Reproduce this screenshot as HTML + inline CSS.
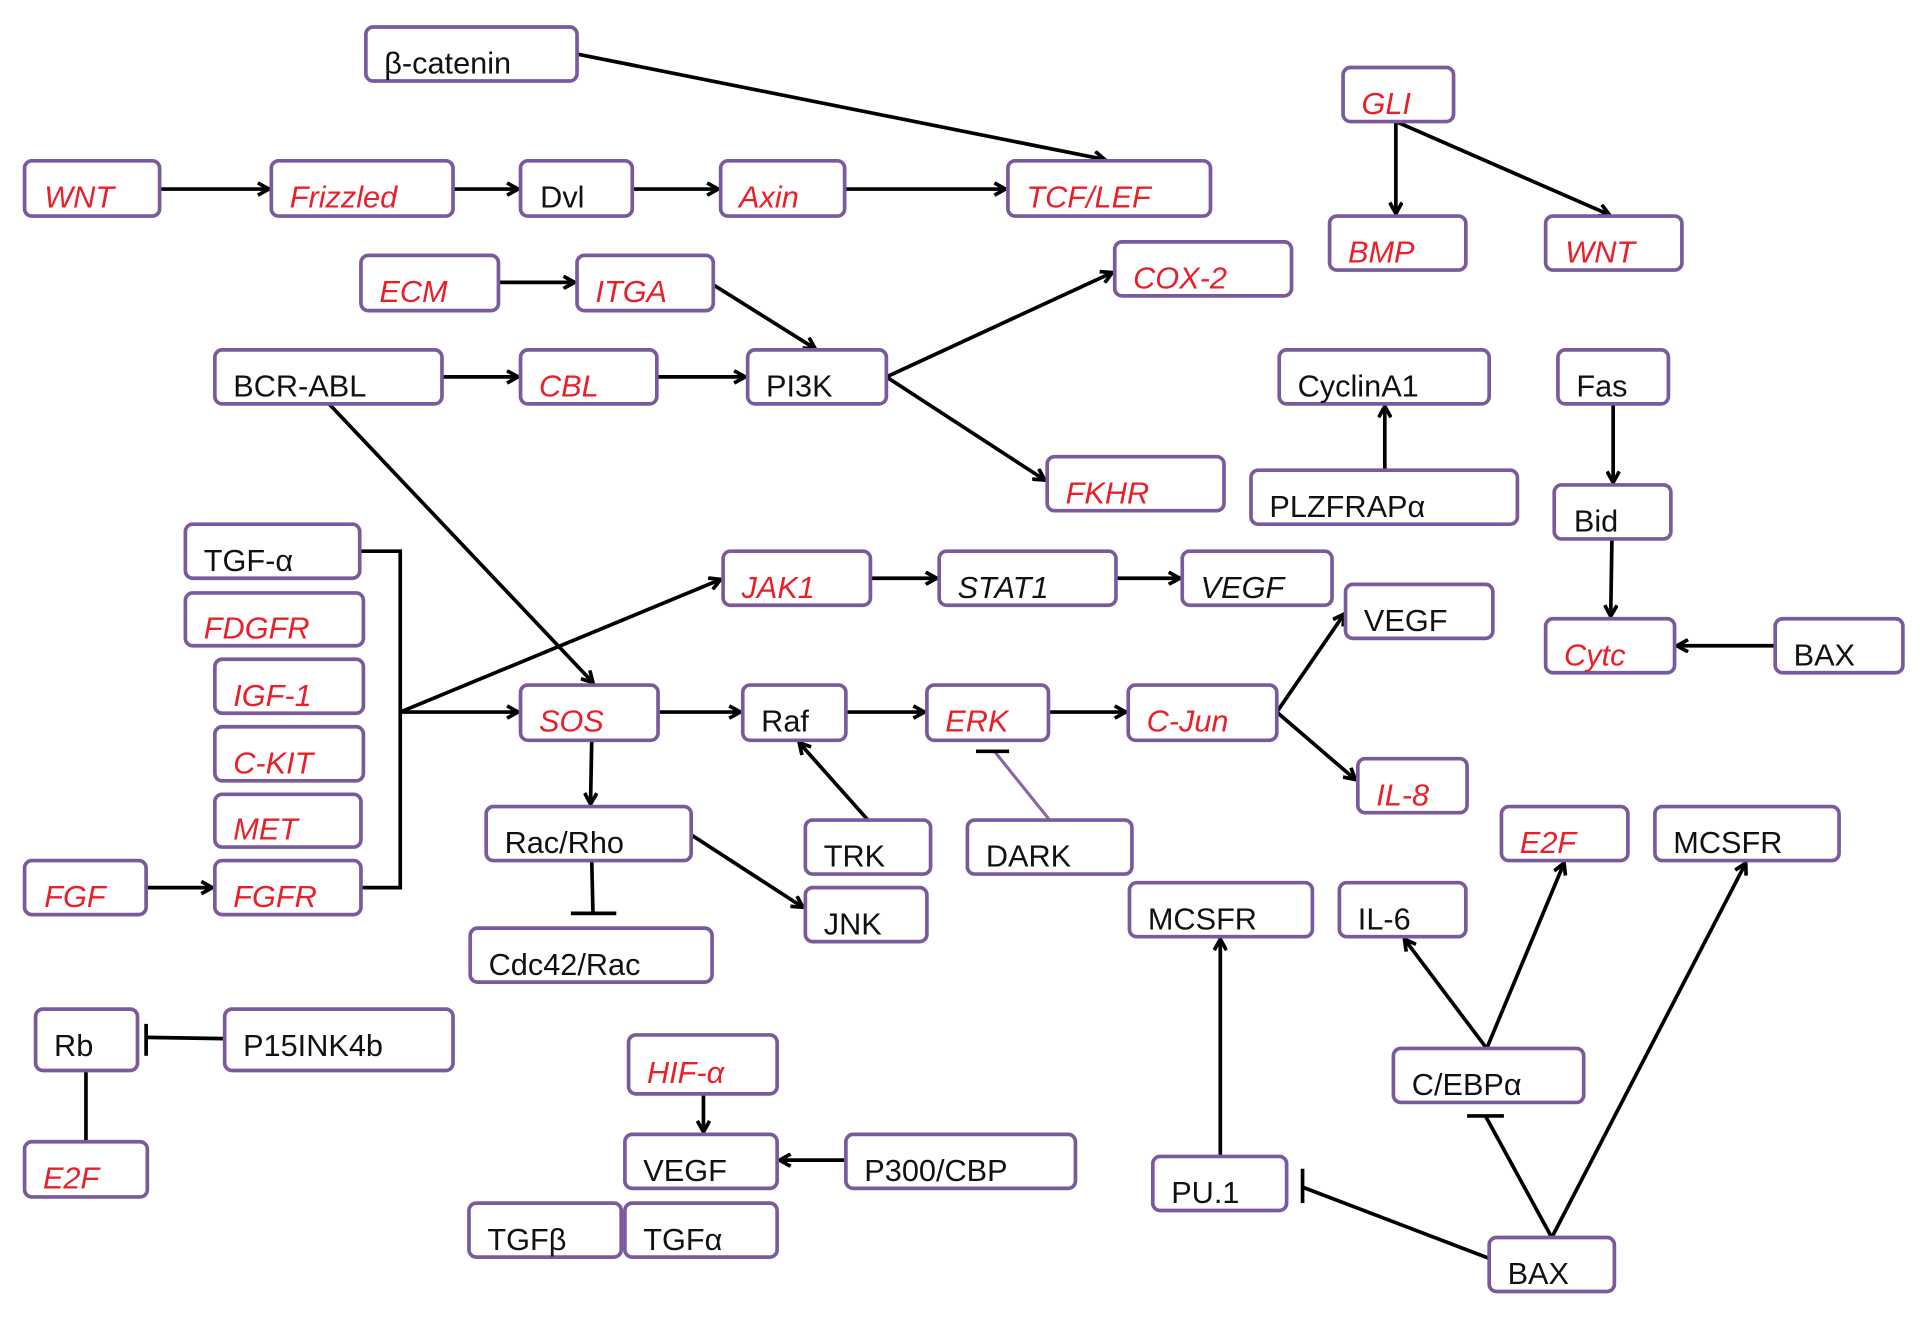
<!DOCTYPE html>
<html><head><meta charset="utf-8"><style>
html,body{margin:0;padding:0;background:#fff;}
svg{display:block}
.b{fill:#fff;stroke:#7a5a9c;stroke-width:3}
text{font-family:"Liberation Sans",sans-serif;font-size:25px;fill:#111}
.r{fill:#e8202a;font-style:italic}
.i{font-style:italic}
.l{stroke:#000;stroke-width:3;fill:none}
.p{stroke:#8a63a8;stroke-width:2.5;fill:none}
</style></head><body>
<svg width="1925" height="1319" viewBox="0 0 1568 1074.4" xmlns="http://www.w3.org/2000/svg">
<defs>
<marker id="a" markerWidth="12" markerHeight="12" refX="10" refY="6" orient="auto" markerUnits="userSpaceOnUse"><path d="M1,1 L10,6 L1,11" fill="none" stroke="#000" stroke-width="3"/></marker>
</defs>
<g>
<!-- edges -->
<line class="l" x1="470" y1="44" x2="900" y2="130" marker-end="url(#a)"/>
<line class="l" x1="130" y1="154" x2="219" y2="154" marker-end="url(#a)"/>
<line class="l" x1="369" y1="154" x2="422" y2="154" marker-end="url(#a)"/>
<line class="l" x1="515" y1="154" x2="585" y2="154" marker-end="url(#a)"/>
<line class="l" x1="688" y1="154" x2="819" y2="154" marker-end="url(#a)"/>
<line class="l" x1="1137" y1="99" x2="1137" y2="174" marker-end="url(#a)"/>
<line class="l" x1="1137" y1="99" x2="1311" y2="175" marker-end="url(#a)"/>
<line class="l" x1="406" y1="230" x2="468" y2="230" marker-end="url(#a)"/>
<line class="l" x1="581" y1="232" x2="664" y2="284" marker-end="url(#a)"/>
<line class="l" x1="360" y1="307" x2="422" y2="307" marker-end="url(#a)"/>
<line class="l" x1="535" y1="307" x2="607" y2="307" marker-end="url(#a)"/>
<line class="l" x1="722" y1="307" x2="906" y2="222" marker-end="url(#a)"/>
<line class="l" x1="722" y1="307" x2="851" y2="391" marker-end="url(#a)"/>
<line class="l" x1="1128" y1="383" x2="1128" y2="331" marker-end="url(#a)"/>
<line class="l" x1="1314" y1="329" x2="1314" y2="393" marker-end="url(#a)"/>
<line class="l" x1="1313" y1="439" x2="1312" y2="502" marker-end="url(#a)"/>
<line class="l" x1="1446" y1="526" x2="1366" y2="526" marker-end="url(#a)"/>
<line class="l" x1="268" y1="329" x2="483" y2="556" marker-end="url(#a)"/>
<polyline class="l" points="293,449 326,449 326,723 294,723"/>
<line class="l" x1="326" y1="580" x2="422" y2="580" marker-end="url(#a)"/>
<line class="l" x1="326" y1="580" x2="587" y2="472" marker-end="url(#a)"/>
<line class="l" x1="119" y1="723" x2="173" y2="723" marker-end="url(#a)"/>
<line class="l" x1="709" y1="471" x2="763" y2="471" marker-end="url(#a)"/>
<line class="l" x1="909" y1="471" x2="961" y2="471" marker-end="url(#a)"/>
<line class="l" x1="536" y1="580" x2="603" y2="580" marker-end="url(#a)"/>
<line class="l" x1="689" y1="580" x2="753" y2="580" marker-end="url(#a)"/>
<line class="l" x1="854" y1="580" x2="917" y2="580" marker-end="url(#a)"/>
<line class="l" x1="1040" y1="580" x2="1095" y2="500" marker-end="url(#a)"/>
<line class="l" x1="1040" y1="580" x2="1104" y2="635" marker-end="url(#a)"/>
<line class="l" x1="482" y1="603" x2="481" y2="655" marker-end="url(#a)"/>
<line class="l" x1="707" y1="668" x2="651" y2="605" marker-end="url(#a)"/>
<line class="p" x1="855" y1="668" x2="810" y2="612"/>
<line class="l" x1="795" y1="612" x2="822" y2="612"/>
<line class="l" x1="482" y1="701" x2="483" y2="744"/>
<line class="l" x1="465" y1="744" x2="502" y2="744"/>
<line class="l" x1="563" y1="680" x2="654" y2="739" marker-end="url(#a)"/>
<line class="l" x1="183" y1="846" x2="119" y2="845"/>
<line class="l" x1="119" y1="834" x2="119" y2="860"/>
<line class="l" x1="70" y1="872" x2="70" y2="930"/>
<line class="l" x1="573" y1="891" x2="573" y2="922" marker-end="url(#a)"/>
<line class="l" x1="689" y1="945" x2="635" y2="945" marker-end="url(#a)"/>
<line class="l" x1="994" y1="942" x2="994" y2="765" marker-end="url(#a)"/>
<line class="l" x1="1213" y1="1025" x2="1061" y2="967"/>
<line class="l" x1="1061" y1="952" x2="1061" y2="980"/>
<line class="l" x1="1264" y1="1008" x2="1210" y2="909"/>
<line class="l" x1="1195" y1="909" x2="1225" y2="909"/>
<line class="l" x1="1264" y1="1008" x2="1422" y2="703" marker-end="url(#a)"/>
<line class="l" x1="1211" y1="854" x2="1144" y2="765" marker-end="url(#a)"/>
<line class="l" x1="1211" y1="854" x2="1274" y2="703" marker-end="url(#a)"/>
</g>
<g>
<rect class="b" x="298" y="22" width="172" height="44" rx="6"/><text x="313" y="60">β-catenin</text>
<rect class="b" x="20" y="131" width="110" height="45" rx="6"/><text class="r" x="36" y="169">WNT</text>
<rect class="b" x="221" y="131" width="148" height="45" rx="6"/><text class="r" x="236" y="169">Frizzled</text>
<rect class="b" x="424" y="131" width="91" height="45" rx="6"/><text x="440" y="169">Dvl</text>
<rect class="b" x="587" y="131" width="101" height="45" rx="6"/><text class="r" x="602" y="169">Axin</text>
<rect class="b" x="821" y="131" width="165" height="45" rx="6"/><text class="r" x="836" y="169">TCF/LEF</text>
<rect class="b" x="1094" y="55" width="90" height="44" rx="6"/><text class="r" x="1109" y="93">GLI</text>
<rect class="b" x="1083" y="176" width="111" height="44" rx="6"/><text class="r" x="1098" y="214">BMP</text>
<rect class="b" x="1259" y="176" width="111" height="44" rx="6"/><text class="r" x="1275" y="214">WNT</text>
<rect class="b" x="294" y="208" width="112" height="45" rx="6"/><text class="r" x="309" y="246">ECM</text>
<rect class="b" x="470" y="208" width="111" height="45" rx="6"/><text class="r" x="485" y="246">ITGA</text>
<rect class="b" x="908" y="197" width="144" height="44" rx="6"/><text class="r" x="923" y="235">COX-2</text>
<rect class="b" x="175" y="285" width="185" height="44" rx="6"/><text x="190" y="323">BCR-ABL</text>
<rect class="b" x="424" y="285" width="111" height="44" rx="6"/><text class="r" x="439" y="323">CBL</text>
<rect class="b" x="609" y="285" width="113" height="44" rx="6"/><text x="624" y="323">PI3K</text>
<rect class="b" x="1042" y="285" width="171" height="44" rx="6"/><text x="1057" y="323">CyclinA1</text>
<rect class="b" x="1269" y="285" width="90" height="44" rx="6"/><text x="1284" y="323">Fas</text>
<rect class="b" x="1019" y="383" width="217" height="44" rx="6"/><text x="1034" y="421">PLZFRAPα</text>
<rect class="b" x="853" y="372" width="144" height="44" rx="6"/><text class="r" x="868" y="410">FKHR</text>
<rect class="b" x="1266" y="395" width="95" height="44" rx="6"/><text x="1282" y="433">Bid</text>
<rect class="b" x="151" y="427" width="142" height="44" rx="6"/><text x="166" y="465">TGF-α</text>
<rect class="b" x="151" y="483" width="145" height="43" rx="6"/><text class="r" x="166" y="520">FDGFR</text>
<rect class="b" x="175" y="537" width="121" height="44" rx="6"/><text class="r" x="190" y="575">IGF-1</text>
<rect class="b" x="175" y="592" width="121" height="44" rx="6"/><text class="r" x="190" y="630">C-KIT</text>
<rect class="b" x="175" y="647" width="119" height="43" rx="6"/><text class="r" x="190" y="684">MET</text>
<rect class="b" x="20" y="701" width="99" height="44" rx="6"/><text class="r" x="36" y="739">FGF</text>
<rect class="b" x="175" y="701" width="119" height="44" rx="6"/><text class="r" x="190" y="739">FGFR</text>
<rect class="b" x="589" y="449" width="120" height="44" rx="6"/><text class="r" x="604" y="487">JAK1</text>
<rect class="b" x="765" y="449" width="144" height="44" rx="6"/><text class="i" x="780" y="487">STAT1</text>
<rect class="b" x="963" y="449" width="122" height="44" rx="6"/><text class="i" x="978" y="487">VEGF</text>
<rect class="b" x="1096" y="476" width="120" height="44" rx="6"/><text x="1111" y="514">VEGF</text>
<rect class="b" x="1259" y="504" width="105" height="44" rx="6"/><text class="r" x="1274" y="542">Cytc</text>
<rect class="b" x="1446" y="504" width="104" height="44" rx="6"/><text x="1461" y="542">BAX</text>
<rect class="b" x="424" y="558" width="112" height="45" rx="6"/><text class="r" x="439" y="596">SOS</text>
<rect class="b" x="605" y="558" width="84" height="45" rx="6"/><text x="620" y="596">Raf</text>
<rect class="b" x="755" y="558" width="99" height="45" rx="6"/><text class="r" x="770" y="596">ERK</text>
<rect class="b" x="919" y="558" width="121" height="45" rx="6"/><text class="r" x="934" y="596">C-Jun</text>
<rect class="b" x="1106" y="618" width="89" height="44" rx="6"/><text class="r" x="1121" y="656">IL-8</text>
<rect class="b" x="396" y="657" width="167" height="44" rx="6"/><text x="411" y="695">Rac/Rho</text>
<rect class="b" x="656" y="668" width="102" height="44" rx="6"/><text x="671" y="706">TRK</text>
<rect class="b" x="788" y="668" width="134" height="44" rx="6"/><text x="803" y="706">DARK</text>
<rect class="b" x="1223" y="657" width="103" height="44" rx="6"/><text class="r" x="1238" y="695">E2F</text>
<rect class="b" x="1348" y="657" width="150" height="44" rx="6"/><text x="1363" y="695">MCSFR</text>
<rect class="b" x="656" y="723" width="99" height="44" rx="6"/><text x="671" y="761">JNK</text>
<rect class="b" x="920" y="719" width="149" height="44" rx="6"/><text x="935" y="757">MCSFR</text>
<rect class="b" x="1091" y="719" width="103" height="44" rx="6"/><text x="1106" y="757">IL-6</text>
<rect class="b" x="383" y="756" width="197" height="44" rx="6"/><text x="398" y="794">Cdc42/Rac</text>
<rect class="b" x="29" y="822" width="83" height="50" rx="6"/><text x="44" y="860">Rb</text>
<rect class="b" x="183" y="822" width="186" height="50" rx="6"/><text x="198" y="860">P15INK4b</text>
<rect class="b" x="1135" y="854" width="155" height="44" rx="6"/><text x="1150" y="892">C/EBPα</text>
<rect class="b" x="512" y="843" width="121" height="48" rx="6"/><text class="r" x="527" y="882">HIF-α</text>
<rect class="b" x="509" y="924" width="124" height="44" rx="6"/><text x="524" y="962">VEGF</text>
<rect class="b" x="689" y="924" width="187" height="44" rx="6"/><text x="704" y="962">P300/CBP</text>
<rect class="b" x="382" y="980" width="124" height="44" rx="6"/><text x="397" y="1018">TGFβ</text>
<rect class="b" x="509" y="980" width="124" height="44" rx="6"/><text x="524" y="1018">TGFα</text>
<rect class="b" x="20" y="930" width="100" height="45" rx="6"/><text class="r" x="35" y="968">E2F</text>
<rect class="b" x="939" y="942" width="109" height="44" rx="6"/><text x="954" y="980">PU.1</text>
<rect class="b" x="1213" y="1008" width="102" height="44" rx="6"/><text x="1228" y="1046">BAX</text>
</g>
</svg>
</body></html>
